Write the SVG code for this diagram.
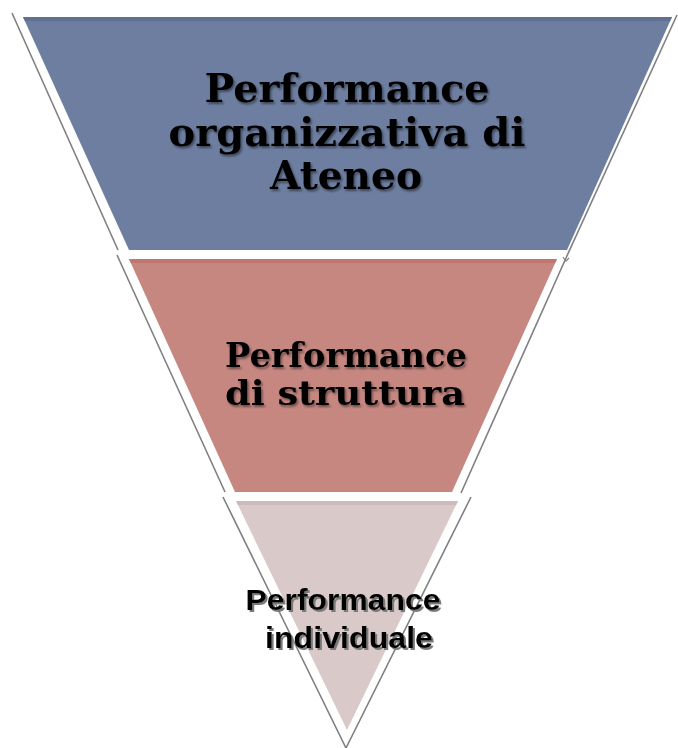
<svg xmlns="http://www.w3.org/2000/svg" width="678" height="748" viewBox="0 0 678 748">
<defs>
<filter id="soft" x="-10%" y="-20%" width="120%" height="150%">
<feDropShadow dx="1.5" dy="2" stdDeviation="1.2" flood-color="#000" flood-opacity="0.45"/>
</filter>
<filter id="hard" x="-10%" y="-20%" width="120%" height="150%">
<feDropShadow dx="2" dy="2" stdDeviation="0.4" flood-color="#7a7a7a" flood-opacity="1"/>
</filter>
</defs>
<style>
.edge{fill:none;stroke:#808080;stroke-width:1.6}
.serif{font-family:"DejaVu Serif","Liberation Serif",serif;font-weight:bold;fill:#000;text-anchor:middle}
.sans{font-family:"Liberation Sans",Arial,sans-serif;font-weight:bold;fill:#000;text-anchor:middle}
</style>
<rect width="678" height="748" fill="#fff"/>
<g id="band-ateneo">
<polyline class="edge" points="12,13 118,250"/>
<polyline class="edge" points="677,15 566,258"/>
<polygon points="23,17 672,17 567,250 129,250" fill="#6D7EA0"/>
<polygon points="23,17 672,17 670,21 25,21" fill="#5F7093"/>
<g filter="url(#soft)">
<text class="serif" x="347" y="102" font-size="39" textLength="285" lengthAdjust="spacingAndGlyphs">Performance</text>
<text class="serif" x="347" y="146" font-size="39" textLength="357" lengthAdjust="spacingAndGlyphs">organizzativa di</text>
<text class="serif" x="346" y="189" font-size="39" textLength="152" lengthAdjust="spacingAndGlyphs">Ateneo</text>
</g>
</g>
<g id="band-struttura">
<polyline class="edge" points="117,255 225,492"/>
<polyline class="edge" points="566,258 461,493"/>
<path d="M563,257 l3,4 l3,-3" fill="none" stroke="#808080" stroke-width="1.2"/>
<polygon points="129,259 557,259 452,492 235,492" fill="#C78781"/>
<polygon points="129,259 557,259 555,263 131,263" fill="#BF7570"/>
<g filter="url(#soft)">
<text class="serif" x="346" y="367" font-size="33" textLength="242" lengthAdjust="spacingAndGlyphs">Performance</text>
<text class="serif" x="345" y="405" font-size="33" textLength="240" lengthAdjust="spacingAndGlyphs">di struttura</text>
</g>
</g>
<g id="band-individuale">
<polyline class="edge" points="223,497 346,748 471,497"/>
<polygon points="236,501 458,501 347,730" fill="#D9C9C9"/>
<polygon points="236,501 458,501 456,505 238,505" fill="#CDBABA"/>
<g filter="url(#hard)">
<text class="sans" x="343" y="610" font-size="30" textLength="195" lengthAdjust="spacingAndGlyphs">Performance</text>
<text class="sans" x="349" y="648" font-size="30" textLength="168" lengthAdjust="spacingAndGlyphs">individuale</text>
</g>
</g>
<g id="connectors"></g>
</svg>
